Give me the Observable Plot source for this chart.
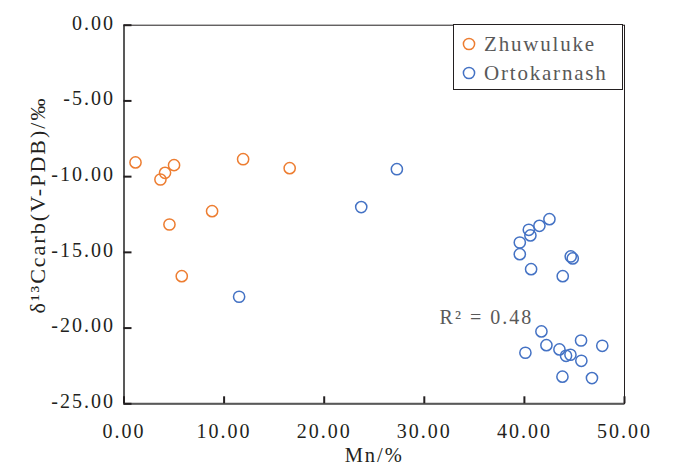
<!DOCTYPE html>
<html><head><meta charset="utf-8">
<script src="https://cdn.jsdelivr.net/npm/d3@7"></script>
<script src="https://cdn.jsdelivr.net/npm/@observablehq/plot@0.6"></script>
<style>
body{margin:0;background:#fff;}
#wrap{position:relative;width:676px;height:467px;font-family:"Liberation Serif","Times New Roman",serif;}
#wrap svg text{letter-spacing:2px;}
#legend{position:absolute;left:453px;top:24px;width:168px;height:64px;border:1.5px solid #231f20;background:#fff;}
.item{position:absolute;left:8px;height:20px;display:flex;align-items:center;font-size:21px;color:#595959;letter-spacing:1.8px;}
.item svg{margin-right:8px;}
</style></head><body><div id="wrap"></div>
<script>
const seriesNames = ["Zhuwuluke", "Ortokarnash"];
const seriesColors = ["#ED7D31", "#4472C4"];
const zhuMn = [1.15, 3.64, 4.1, 5.0, 11.9, 16.55, 8.8, 4.54, 5.77];
const zhuC  = [-9.06, -10.19, -9.75, -9.24, -8.85, -9.44, -12.28, -13.16, -16.57];
const ortMn = [11.5, 27.26, 23.7, 42.5, 41.5, 40.44, 40.6, 39.54, 39.54, 40.67, 44.63, 44.83, 43.83, 41.7, 42.2, 45.66, 47.78, 40.1, 43.5, 44.16, 44.6, 45.69, 43.8, 46.75];
const ortC  = [-17.93, -9.51, -12.01, -12.81, -13.25, -13.51, -13.88, -14.35, -15.12, -16.11, -15.27, -15.4, -16.57, -20.22, -21.13, -20.82, -21.17, -21.63, -21.41, -21.83, -21.76, -22.16, -23.21, -23.3];
const xTicks = [0, 10, 20, 30, 40, 50];
const yTicks = [0, -5, -10, -15, -20, -25];
const xLabel = "Mn/%";
const yLabel = "δ¹³Ccarb(V-PDB)/‰";
const r2Note = [{x: 36.2, y: -19.28, text: "R² = 0.48"}];

const rows = [
  ...zhuMn.map((m, i) => ({mn: m, c: zhuC[i], s: seriesNames[0]})),
  ...ortMn.map((m, i) => ({mn: m, c: ortC[i], s: seriesNames[1]}))
];

const W = 676, H = 467, mL = 123.5, mR = 52, mT = 24.7, mB = 63.7;
const innerW = W - mL - mR, innerH = H - mT - mB;
const fmt = d => d.toFixed(2);
const serif = "'Liberation Serif', 'Times New Roman', serif";

const chart = Plot.plot({
  width: W, height: H,
  marginLeft: mL, marginRight: mR, marginTop: mT, marginBottom: mB,
  style: {fontFamily: serif, fontSize: "20px", color: "#231f20", background: "#fff"},
  x: {domain: [0, 50]},
  y: {domain: [-25, 0]},
  color: {domain: seriesNames, range: seriesColors},
  marks: [
    Plot.frame({stroke: "#231f20", strokeWidth: 1}),
    Plot.ruleX([0], {stroke: "#595959", strokeWidth: 2}),
    Plot.ruleY([-25], {stroke: "#595959", strokeWidth: 2}),
    Plot.tickX(xTicks, {x: d => d, insetTop: innerH - 7, stroke: "#231f20", strokeWidth: 2}),
    Plot.tickY(yTicks, {y: d => d, insetRight: innerW - 8, stroke: "#231f20", strokeWidth: 2}),
    Plot.axisX({ticks: xTicks, tickSize: 0, tickPadding: 20, tickFormat: fmt, label: null, fill: "#231f20", fontSize: 20, fontFamily: serif}),
    Plot.axisY({ticks: yTicks, tickSize: 0, tickPadding: 9, tickFormat: fmt, label: null, fill: "#231f20", fontSize: 20, fontFamily: serif, dy: -2}),
    Plot.text([xLabel], {frameAnchor: "bottom", lineAnchor: "middle", textAnchor: "middle", dy: 52, text: d => d, fill: "#231f20", fontSize: 20.5, fontFamily: serif}),
    Plot.text([yLabel], {frameAnchor: "left", textAnchor: "middle", lineAnchor: "middle", rotate: -90, dx: -86.5, dy: -9.5, text: d => d, fill: "#231f20", fontSize: 22, fontFamily: serif}),
    Plot.text(r2Note, {x: "x", y: "y", text: "text", fill: "#595959", fontSize: 20, fontFamily: serif}),
    Plot.dot(rows, {x: "mn", y: "c", stroke: "s", r: 5.6, strokeWidth: 1.5, fill: "none"})
  ]
});

const wrap = document.getElementById("wrap");
wrap.appendChild(chart);
const legend = document.createElement("div");
legend.id = "legend";
seriesNames.forEach((name, i) => {
  const it = document.createElement("div");
  it.className = "item";
  it.style.top = (9 + i * 29) + "px";
  it.innerHTML = `<svg width="14" height="14"><circle cx="7" cy="7" r="5.6" fill="none" stroke="${seriesColors[i]}" stroke-width="1.5"/></svg><span>${name}</span>`;
  legend.appendChild(it);
});
wrap.appendChild(legend);
</script></body></html>
